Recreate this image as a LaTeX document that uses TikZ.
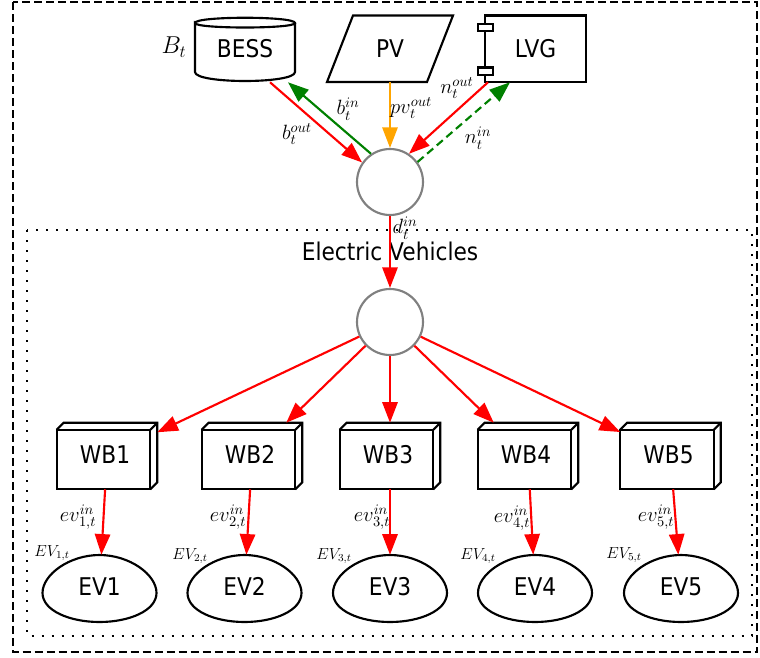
\RequirePackage{fix-cm}
\documentclass[tikz,border=0pt]{standalone}
\usepackage{fontspec}
\setmainfont{DejaVu Sans}[FakeStretch=0.89]
\usetikzlibrary{arrows.meta,calc}
\definecolor{gvred}{RGB}{255,0,0}
\definecolor{gvgreen}{RGB}{0,128,0}
\definecolor{gvorange}{RGB}{255,165,0}
\definecolor{gvgray}{RGB}{128,128,128}
\newcommand\drawegg[1]{%
  \draw[shp] ($(#1)+(-57,4.5)$) .. controls ($(#1)+(-57,-14)$) and ($(#1)+(-30,-33.5)$) .. ($(#1)+(0,-33.5)$)
   .. controls ($(#1)+(30,-33.5)$) and ($(#1)+(57,-14)$) .. ($(#1)+(57,4.5)$)
   .. controls ($(#1)+(57,22)$) and ($(#1)+(30,33.5)$) .. ($(#1)+(0,33.5)$)
   .. controls ($(#1)+(-30,33.5)$) and ($(#1)+(-57,22)$) .. ($(#1)+(-57,4.5)$) -- cycle;}
\newcommand\drawboxthree[1]{%
  \draw[shp] ($(#1.north west)+(0,7)$) rectangle ($(#1.south east)+(-7,0)$);
  \draw[shp,line join=miter] ($(#1.north west)+(0,7)$) -- ($(#1.north west)+(7,0)$) -- (#1.north east) -- ($(#1.south east)+(0,-7)$) -- ($(#1.south east)+(-7,0)$);
  \draw[shp] (#1.north east) -- ($(#1.north east)+(-7,7)$);}
\begin{document}
\begin{tikzpicture}[x=0.75pt,y=-0.75pt,
  lbl/.style={font=\fontsize{18.3}{22}\selectfont, inner sep=0pt},
  shp/.style={line width=1.6pt, draw=black},
  hub/.style={circle, draw=gvgray, line width=1.6pt, minimum size=49.5pt, inner sep=0pt},
  wbnode/.style={lbl, minimum width=75pt, minimum height=49.5pt},
  evnode/.style={lbl, minimum width=85.5pt, minimum height=50.25pt},
  topnode/.style={lbl, minimum height=50.25pt},
  flow/.style={line width=1.6pt, -{Triangle[length=15.5pt,width=11.5pt]}},
  elab/.style={font=\fontsize{15.5}{18}\selectfont, inner sep=0pt},
  xlab/.style={font=\fontsize{12}{14}\selectfont, inner sep=0pt},
  frame/.style={line width=1.5pt}
]
\useasboundingbox (0,0) rectangle (760,657);
% frames
\draw[frame, dash pattern=on 6pt off 3pt] (12.5,2) rectangle (757,652);
\draw[frame, dash pattern=on 1.5pt off 6pt] (27,230) rectangle (752,635.5);
\node[lbl] (evtitle) at (390,251) {Electric Vehicles};

% top nodes
\node[topnode, minimum width=75pt] (bess) at (245,48.5) {BESS};
\draw[shp] (195,23) .. controls (195,16) and (295,16) .. (295,23)
  .. controls (295,29) and (195,29) .. (195,23) -- (195,72)
  .. controls (195,84) and (295,84) .. (295,72) -- (295,23);
\node[font=\fontsize{18.3}{22}\selectfont, inner sep=0pt] (bt) at (174,47) {$B_t$};

\node[topnode, minimum width=75pt] (pv) at (390,48.5) {PV};
\draw[shp] (353,15.5) -- (453,15.5) -- (427,82) -- (327,82) -- cycle;

\draw[shp] (485,15.5) rectangle (586,82);
\draw[shp, fill=white] (478,24) rectangle (493,31);
\draw[shp, fill=white] (478,67.5) rectangle (493,75);
\node[topnode, minimum width=75.75pt] (lvg) at (535.5,48.5) {LVG};

% hubs
\node[hub] (c1) at (390,182) {};
\node[hub] (c2) at (390,322) {};

% top connectors
\draw[flow, gvred] ($(bess.south)+(25,0)$) -- (c1.145);
\draw[flow, gvgreen] (c1.124) -- ($(bess.south)+(43,0)$);
\draw[flow, gvorange] (pv.south) -- (c1.north);
\draw[flow, gvred] ($(lvg.south)+(-47.5,0)$) -- (c1.56);
\draw[flow, gvgreen, dash pattern=on 6pt off 3.5pt] (c1.36) -- ($(lvg.south)+(-25.5,0)$);
\draw[flow, gvred] (c1.south) -- (c2.north);

\node[elab] (lbo) at (297,134) {$b_t^{out}$};
\node[elab] (lbi) at (348,109) {$b_t^{in}$};
\node[elab] (lpv) at (411,108) {$pv_t^{out}$};
\node[elab] (lno) at (457,88) {$n_t^{out}$};
\node[elab] (lni) at (478,138) {$n_t^{in}$};
\node[elab] (ldi) at (405,228) {$d_t^{in}$};

% wallboxes
\foreach \i/\x in {1/107,2/252,3/390,4/528,5/670.5}{
  \node[wbnode] (wb\i) at (\x,456) {};
  \drawboxthree{wb\i}
  \node[lbl] (wbt\i) at ($(wb\i)+(-2,-1.5)$) {WB\i};
  \draw[flow, gvred] (c2) -- (wb\i);
}
% EVs
\foreach \i/\x in {1/99.5,2/244.5,3/390,4/535,5/681}{
  \node[evnode] (ev\i) at (\x,588.5) {};
  \drawegg{ev\i}
  \node[lbl] (evt\i) at ($(ev\i)+(0,-2)$) {EV\i};
  \draw[flow, gvred] (wb\i) -- (ev\i);
}
\node[elab] (e1) at (78,517) {$ev_{1,t}^{in}$};
\node[elab] (e2) at (228,517) {$ev_{2,t}^{in}$};
\node[elab] (e3) at (372,517) {$ev_{3,t}^{in}$};
\node[elab] (e4) at (512,518) {$ev_{4,t}^{in}$};
\node[elab] (e5) at (656,517) {$ev_{5,t}^{in}$};
\node[xlab] (x1) at (52,553) {$EV_{1,t}$};
\node[xlab] (x2) at (190,556) {$EV_{2,t}$};
\node[xlab] (x3) at (334,556) {$EV_{3,t}$};
\node[xlab] (x4) at (478,556) {$EV_{4,t}$};
\node[xlab] (x5) at (624,555) {$EV_{5,t}$};
\end{tikzpicture}
\end{document}
